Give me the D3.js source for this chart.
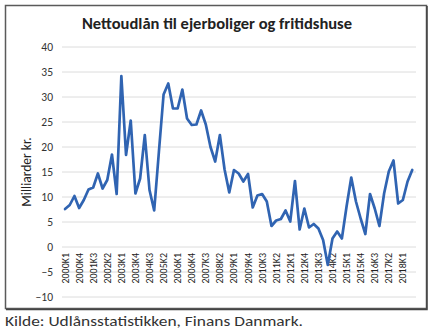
<!DOCTYPE html>
<html>
<head>
<meta charset="utf-8">
<script src="https://cdn.jsdelivr.net/npm/d3@7"></script>
<style>
  html, body { margin: 0; padding: 0; background: #ffffff; }
  svg { display: block; }
</style>
</head>
<body>
<svg id="chart" width="432" height="331"></svg>
<script>
const categories = [
  "2000K1","2000K2","2000K3","2000K4","2001K1","2001K2","2001K3","2001K4",
  "2002K1","2002K2","2002K3","2002K4","2003K1","2003K2","2003K3","2003K4",
  "2004K1","2004K2","2004K3","2004K4","2005K1","2005K2","2005K3","2005K4",
  "2006K1","2006K2","2006K3","2006K4","2007K1","2007K2","2007K3","2007K4",
  "2008K1","2008K2","2008K3","2008K4","2009K1","2009K2","2009K3","2009K4",
  "2010K1","2010K2","2010K3","2010K4","2011K1","2011K2","2011K3","2011K4",
  "2012K1","2012K2","2012K3","2012K4","2013K1","2013K2","2013K3","2013K4",
  "2014K1","2014K2","2014K3","2014K4","2015K1","2015K2","2015K3","2015K4",
  "2016K1","2016K2","2016K3","2016K4","2017K1","2017K2","2017K3","2017K4",
  "2018K1","2018K2","2018K3"
];
const nettoudlaan = [
  7.6, 8.4, 10.2, 7.8, 9.4, 11.5, 11.9, 14.7,
  11.7, 13.4, 18.5, 10.6, 34.2, 18.4, 25.3, 10.7,
  13.7, 22.4, 11.4, 7.3, 19.0, 30.5, 32.7, 27.7,
  27.7, 31.5, 25.7, 24.4, 24.5, 27.3, 24.5, 20.0,
  17.1, 22.4, 15.5, 10.9, 15.4, 14.7, 13.1, 14.6,
  7.9, 10.3, 10.6, 9.1, 4.2, 5.3, 5.6, 7.3,
  5.1, 13.2, 3.5, 7.7, 3.9, 4.6, 3.7, 1.4,
  -3.6, 1.7, 3.1, 1.7, 8.1, 13.9, 9.1, 5.7,
  2.6, 10.6, 7.7, 4.2, 10.7, 15.1, 17.3, 8.7,
  9.4, 13.1, 15.4
];
const yTicks = [-10, -5, 0, 5, 10, 15, 20, 25, 30, 35, 40];
const xTickLabels = categories.filter((c, i) => i % 3 === 0);
const titleText = "Nettoudlån til ejerboliger og fritidshuse";
const yAxisTitle = "Milliarder kr.";
const sourceText = "Kilde: Udlånsstatistikken, Finans Danmark.";

const svg = d3.select("#chart");
const font = "Calibri, Carlito, 'Open Sans', 'Noto Sans', sans-serif";

// outer frame
svg.append("rect")
  .attr("x", 5.5).attr("y", 5.5).attr("width", 421).attr("height", 303)
  .attr("fill", "#ffffff").attr("stroke", "#5a5a5a").attr("stroke-width", 1.5);
svg.append("path")
  .attr("d", "M427,6 L427,309.5 L6,309.5")
  .attr("fill", "none").attr("stroke", "#444").attr("stroke-width", 1.5);

const x = d3.scaleBand().domain(categories).range([62.7, 414.6]).padding(0);
const y = d3.scaleLinear().domain([-10, 40]).range([297, 47]);
const cx = c => x(c) + x.bandwidth() / 2;

// gridlines
svg.append("g")
  .selectAll("line").data(yTicks).join("line")
  .attr("x1", 62).attr("x2", 416)
  .attr("y1", d => y(d)).attr("y2", d => y(d))
  .attr("stroke", "#dcdcdc").attr("stroke-width", 1);

// y axis labels
const yAxis = d3.axisLeft(y).tickValues(yTicks).tickSize(0).tickPadding(0);
const gy = svg.append("g").attr("transform", "translate(53,0)").call(yAxis);
gy.select(".domain").remove();
gy.selectAll("text")
  .attr("font-family", font).attr("font-size", 11.5).attr("fill", "#333");

// x axis labels (rotated), placed next to the zero line
const xAxis = d3.axisBottom(x).tickValues(xTickLabels).tickSize(0).tickPadding(0);
const gx = svg.append("g").attr("transform", `translate(0,${y(0)})`).call(xAxis);
gx.select(".domain").remove();
gx.selectAll("text")
  .attr("font-family", font).attr("font-size", 10).attr("fill", "#222")
  .attr("text-anchor", "end")
  .attr("dy", "0.35em")
  .attr("transform", "translate(0,6) rotate(-90)")
  .attr("x", 0).attr("y", 0);

// line
const line = d3.line()
  .x((d, i) => cx(categories[i]))
  .y(d => y(d));
svg.append("path")
  .datum(nettoudlaan)
  .attr("d", line)
  .attr("fill", "none")
  .attr("stroke", "#3064b2")
  .attr("stroke-width", 2.7)
  .attr("stroke-linejoin", "round")
  .attr("stroke-linecap", "round");

// title
svg.append("text")
  .attr("x", 217).attr("y", 29)
  .attr("text-anchor", "middle")
  .attr("font-family", font).attr("font-weight", "bold").attr("font-size", 16)
  .attr("fill", "#222")
  .attr("textLength", 270).attr("lengthAdjust", "spacingAndGlyphs")
  .text(titleText);

// y axis title
svg.append("text")
  .attr("transform", `translate(31,${(y(-10) + y(40)) / 2}) rotate(-90)`)
  .attr("text-anchor", "middle")
  .attr("font-family", font).attr("font-size", 13.5)
  .attr("fill", "#222")
  .text(yAxisTitle);

// source
svg.append("text")
  .attr("x", 5).attr("y", 326)
  .attr("font-family", font).attr("font-size", 14)
  .attr("fill", "#333")
  .attr("textLength", 298).attr("lengthAdjust", "spacingAndGlyphs")
  .text(sourceText);
</script>
</body>
</html>
